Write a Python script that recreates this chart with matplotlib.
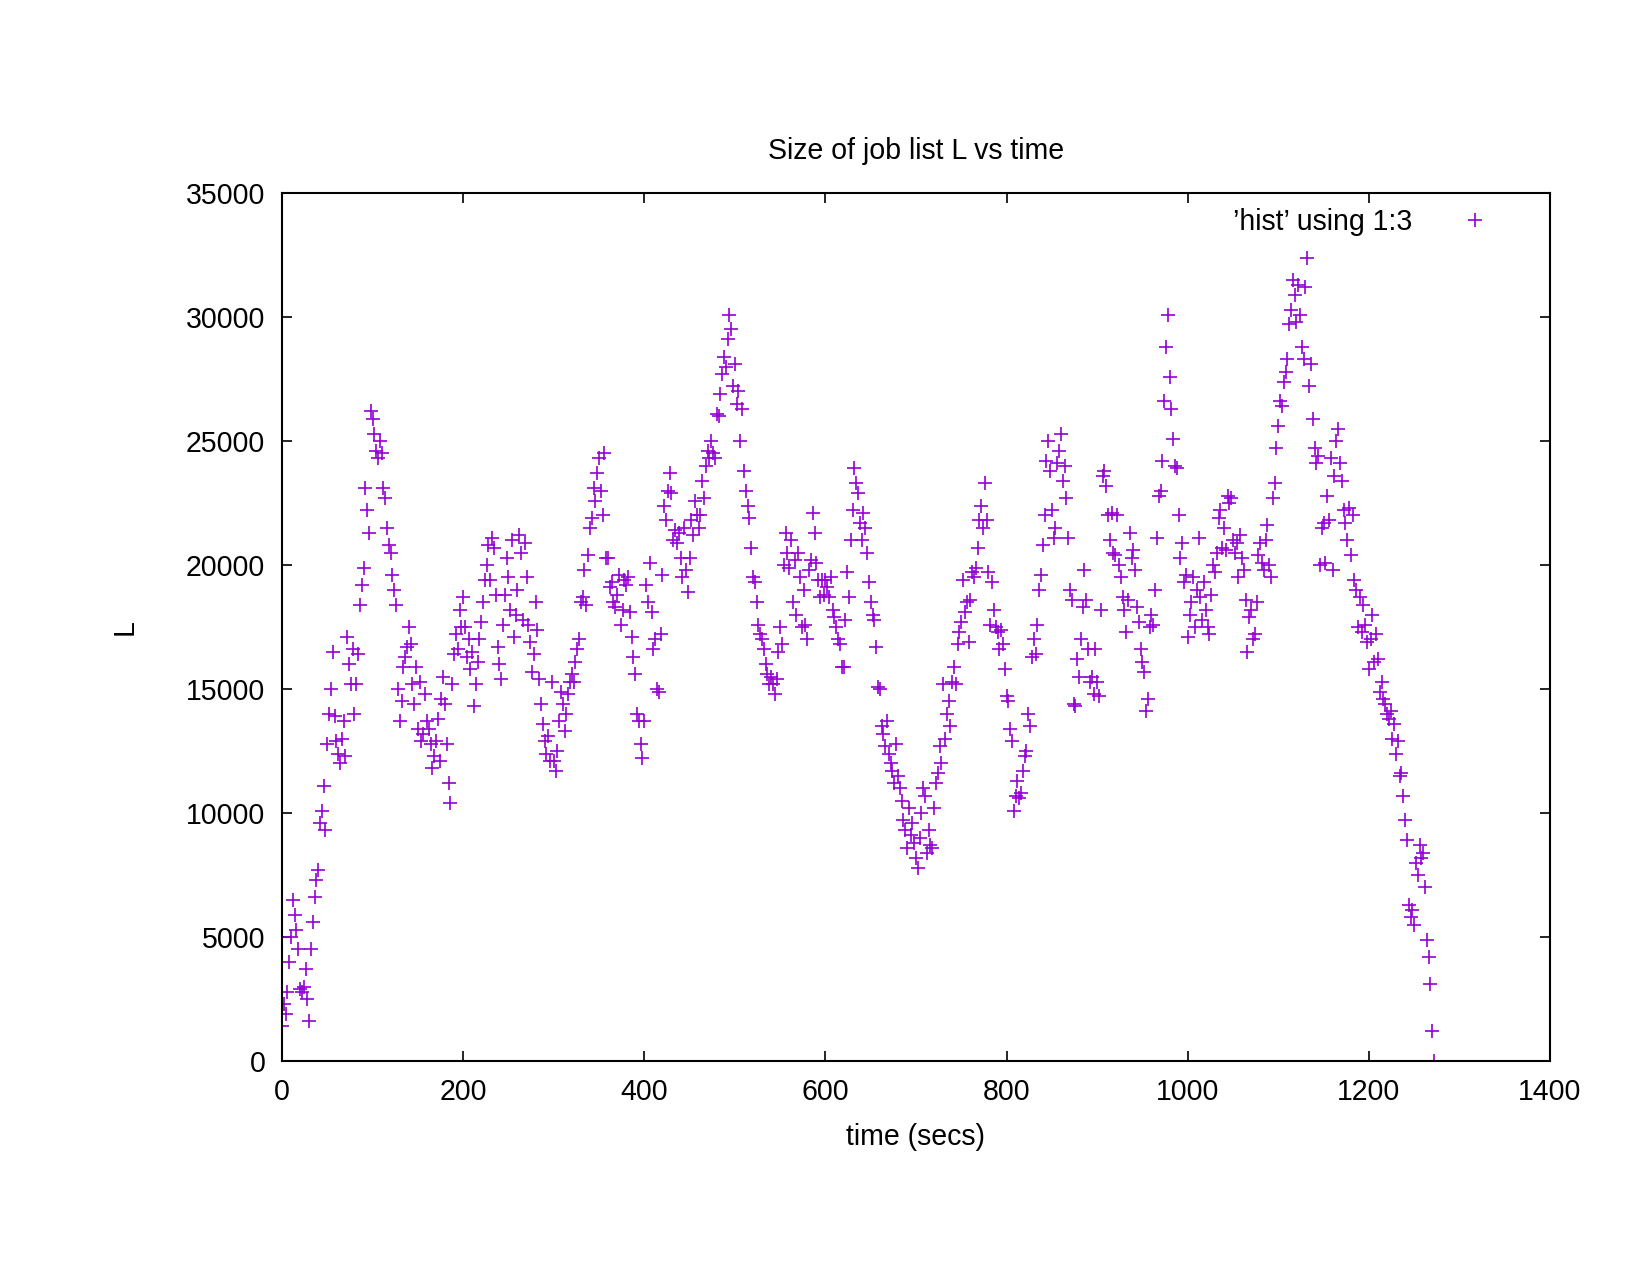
import numpy as np
import matplotlib
matplotlib.use('Agg')
import matplotlib.pyplot as plt

plt.rcParams['font.family'] = ['Liberation Sans', 'DejaVu Sans']
plt.rcParams['font.size'] = 13.7

# job list size L, sampled every 2 s, one list per 100 s segment
step = 2
L_000 = [1400, 2300, 1900, 2800, 4000, 5000, 6500, 5900, 5300, 4500,
         2900, 2800, 3000, 3700, 2500, 1600, 4500, 5600, 6600, 7300,
         7700, 9600, 10100, 11100, 9300, 12800, 14000, 15000, 16500, 13900,
         12900, 12400, 12000, 13000, 13700, 12300, 17100, 16000, 15200, 16600,
         14000, 15200, 16400, 18400, 19200, 19900, 23100, 22200, 21300, 26200]
L_100 = [25900, 25300, 24600, 24300, 25000, 24500, 23100, 22700, 21500, 20800,
         20500, 19600, 19000, 18400, 15000, 13700, 14500, 15900, 16300, 16700,
         17500, 16800, 15200, 14400, 15900, 13400, 15300, 12900, 13200, 14800,
         13700, 13400, 12800, 11800, 12300, 12900, 13800, 12100, 14600, 15500,
         14400, 12800, 11200, 10400, 15200, 16400, 17200, 16600, 18200, 17500]
L_200 = [18700, 17500, 16300, 17000, 15800, 16500, 14300, 15200, 16100, 17000,
         17700, 18500, 19400, 20000, 20800, 19400, 21100, 20700, 18800, 16700,
         16000, 15400, 17600, 18800, 20300, 19500, 18200, 21000, 17100, 18000,
         19000, 21200, 20500, 17800, 20900, 19500, 17600, 16900, 15700, 16400,
         18500, 17400, 15400, 14400, 13600, 12900, 12400, 13100, 12100, 15300]
L_300 = [12100, 11700, 12500, 13700, 14900, 14400, 13300, 14000, 14800, 15300,
         15600, 15300, 16100, 16600, 17000, 18500, 18700, 19800, 18400, 20400,
         21500, 21900, 23100, 22600, 23700, 24300, 23000, 22000, 24500, 20300,
         20300, 19100, 19300, 18500, 18300, 18800, 19600, 17600, 18200, 19400,
         19200, 19500, 18100, 17100, 16300, 15600, 14000, 13700, 12800, 12200]
L_400 = [13700, 19200, 18500, 20100, 18100, 16600, 17000, 15000, 14900, 17200,
         19600, 22400, 21800, 23000, 23700, 22900, 21000, 21400, 20900, 21300,
         20300, 19500, 21500, 19800, 18900, 20300, 21800, 21200, 22600, 22000,
         21500, 22000, 23400, 22700, 24000, 24600, 24300, 25000, 24500, 24300,
         26100, 26000, 26900, 27700, 28400, 28000, 29100, 30100, 29500, 27200]
L_500 = [28100, 26500, 27000, 25000, 26300, 23800, 23000, 22400, 21900, 20700,
         19500, 19300, 18500, 17600, 17200, 17000, 16600, 16000, 15600, 15200,
         15500, 15200, 14800, 15400, 16500, 17500, 16800, 20000, 21300, 20500,
         19900, 21000, 18500, 20200, 18000, 20500, 19500, 17500, 19000, 17600,
         17000, 19800, 20200, 22100, 21300, 20100, 19400, 18700, 19400, 18800]
L_600 = [19400, 19100, 18700, 19500, 18200, 17900, 17500, 17000, 16800, 15900,
         15900, 17800, 19700, 18700, 21000, 22200, 23900, 23300, 22900, 21700,
         21000, 22100, 21500, 20500, 19300, 18500, 18000, 17800, 16700, 15100,
         15000, 13500, 13200, 12700, 13700, 12400, 12000, 11700, 11200, 12800,
         11500, 11000, 10500, 9700, 9300, 8600, 10200, 9100, 9600, 8800]
L_700 = [8200, 7800, 9000, 10000, 11000, 10700, 8400, 9300, 8700, 8600,
         10200, 11200, 11600, 12700, 12000, 15200, 13000, 14000, 14500, 13500,
         15300, 15900, 15200, 16800, 17300, 17700, 19400, 18100, 18500, 16900,
         18600, 19700, 19500, 19900, 20700, 21800, 22400, 21500, 23300, 21800,
         19700, 17600, 19300, 18200, 17500, 17300, 16600, 17400, 16800, 15800]
L_800 = [14700, 14500, 13400, 12900, 10100, 10700, 11300, 10600, 10800, 11700,
         12300, 12500, 14000, 13500, 16300, 17000, 16400, 17600, 19000, 19600,
         20800, 22000, 24200, 25000, 23800, 22200, 21100, 21500, 24100, 24600,
         25300, 23400, 24000, 22700, 21100, 19000, 18600, 14400, 14300, 16200,
         15500, 17000, 18300, 19800, 18600, 16600, 15300, 15500, 14800, 16600]
L_900 = [15300, 14700, 18200, 23600, 23800, 23200, 22000, 21000, 22100, 20500,
         20400, 22000, 20000, 19500, 18700, 18200, 17300, 18600, 21300, 20300,
         20600, 19800, 18300, 17700, 16600, 16100, 15700, 14100, 14600, 17500,
         18000, 17600, 19000, 21100, 22800, 23000, 24200, 26600, 28800, 30100,
         27600, 26300, 25100, 24000, 23900, 22000, 20300, 20900, 19300, 19600]
L_1000 = [17100, 18000, 18500, 19500, 17500, 19000, 21100, 18700, 17800, 19300,
          18200, 17500, 17200, 18800, 20000, 19700, 20500, 21900, 22200, 20700,
          21500, 20600, 22800, 22500, 22700, 21000, 20500, 20900, 19500, 21200,
          20300, 19800, 18600, 16500, 17900, 18200, 17000, 17200, 18500, 20400,
          20900, 20100, 19800, 21000, 21600, 20000, 19500, 22700, 23300, 24700]
L_1100 = [25600, 26600, 26400, 27400, 27800, 28300, 29700, 30300, 31500, 30900,
          29800, 31300, 30100, 28800, 28300, 31200, 32400, 27200, 28100, 25900,
          24700, 24100, 24400, 20000, 21500, 21700, 20100, 22800, 21800, 24300,
          19800, 23600, 25000, 25500, 24100, 23400, 22200, 21700, 21000, 22300,
          20400, 22000, 19400, 19000, 17500, 18700, 17300, 18400, 17600, 16900]
L_1200 = [15800, 17000, 18000, 16100, 17200, 16200, 14900, 15300, 14600, 14400,
          14000, 13800, 14100, 13000, 13600, 12400, 12900, 11500, 11600, 10700,
          9700, 8900, 6300, 5800, 6100, 5500, 8000, 7500, 8700, 8200,
          8400, 7000, 4900, 4200, 3100, 1200, 0]

segments = [(0, L_000), (100, L_100), (200, L_200), (300, L_300), (400, L_400),
            (500, L_500), (600, L_600), (700, L_700), (800, L_800), (900, L_900),
            (1000, L_1000), (1100, L_1100), (1200, L_1200)]

time = np.concatenate([start + step * np.arange(len(vals)) for start, vals in segments])
L = np.concatenate([vals for _, vals in segments])

fig = plt.figure(figsize=(11, 8.5), dpi=150)
ax = fig.add_axes([0.1709, 0.1678, 0.7685, 0.6808])

ax.plot(time, L, linestyle='none', marker='+', markersize=6.4,
        markeredgewidth=0.8, color='#9400d3',
        label='\u2019hist\u2019 using 1:3')

ax.set(xlim=(0, 1400), ylim=(0, 35000),
       xticks=np.arange(0, 1401, 200), yticks=np.arange(0, 35001, 5000))
ax.tick_params(direction='in', length=5, width=0.8, top=True, right=True,
               pad=8, labelsize=13.7)
for s in ax.spines.values():
    s.set_linewidth(1.0)

ax.set_title('Size of job list L vs time', fontsize=13.7, pad=16.5)
ax.set_xlabel('time (secs)', fontsize=13.7, labelpad=8.5)
ax.set_ylabel('L', fontsize=13.7, labelpad=22.5)

ax.legend(loc='upper right', frameon=False, markerfirst=False,
          handlelength=1.5, handletextpad=1.45, borderaxespad=0.6,
          fontsize=13.7, bbox_to_anchor=(0.98, 1.0155))

fig.savefig('out.png', dpi=150)
